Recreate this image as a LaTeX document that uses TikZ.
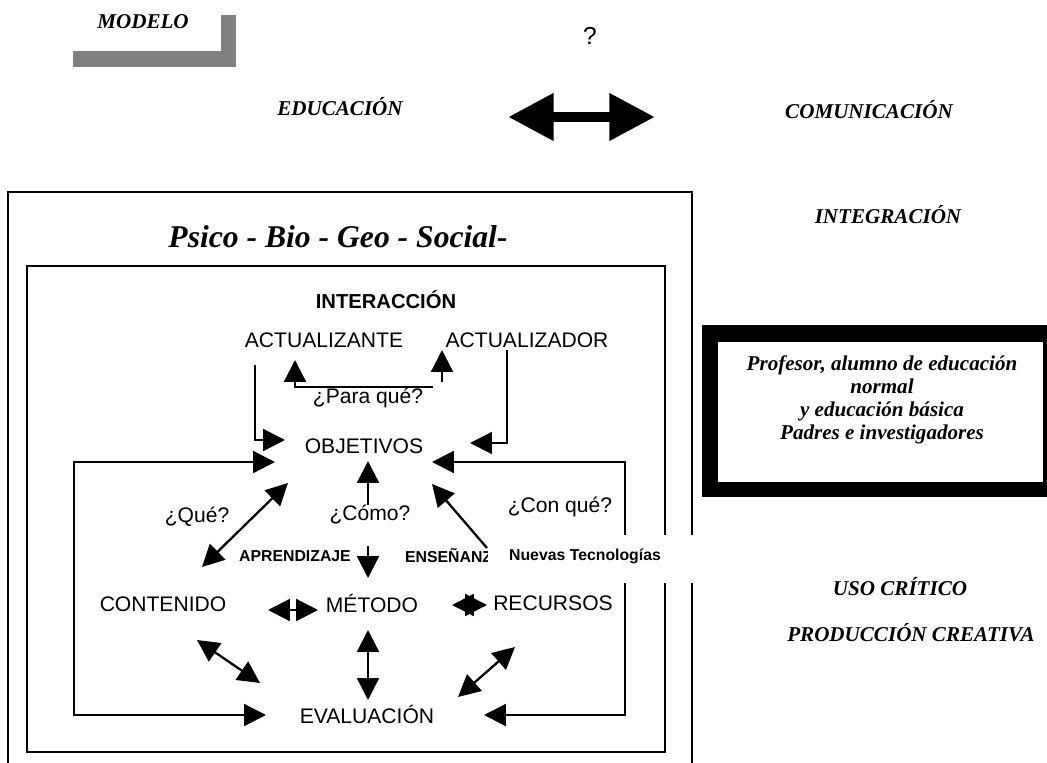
\documentclass[tikz,border=0pt]{standalone}
\usepackage{fontspec}
\setmainfont{Liberation Serif}
\setsansfont{Liberation Sans}
\usetikzlibrary{arrows.meta}

\tikzset{
	lbl/.style={font=\sffamily\fontsize{12}{14}\selectfont, inner sep=1pt},
	blbl/.style={font=\sffamily\bfseries\fontsize{9}{11}\selectfont, inner sep=1pt},
	ttl/.style={font=\rmfamily\bfseries\itshape\fontsize{12}{14}\selectfont, inner sep=1pt},
	wire/.style={line width=1.3pt},
	tip/.style={wire, -{Triangle[length=12.5pt,width=12.5pt]}},
	dtip/.style={wire, {Triangle[length=12.5pt,width=12.5pt]}-{Triangle[length=12.5pt,width=12.5pt]}},
}

\begin{document}
\begin{tikzpicture}[x=0.02cm, y=-0.02cm]
	\useasboundingbox (0,0) rectangle (1047,763);
	% Heading, frames and texts:
	\fill[gray] (73,51) rectangle (236,67);
	\fill[gray] (221,15) rectangle (236,67);
	\node[ttl] (modelo) at (143,22) {MODELO};
	\node[lbl, font=\sffamily\fontsize{14}{16}\selectfont] (qm) at (590,36) {?};
	\node[ttl] (edu) at (340,107) {EDUCACIÓN};
	\node[ttl] (com) at (869,110) {COMUNICACIÓN};
	\coordinate (e1) at (508,117);
	\coordinate (e2) at (655,117);
	\draw[line width=6.2pt, {Triangle[length=26pt,width=25.5pt]}-{Triangle[length=26pt,width=25.5pt]}] (e1) -- (e2);
	\node[ttl] (integ) at (888,215) {INTEGRACIÓN};
	\node[ttl] (uso) at (900,587) {USO CRÍTICO};
	\node[ttl] (prod) at (911,633) {PRODUCCIÓN CREATIVA};
	\fill (702,325) rectangle (1047,497);
	\fill[white] (718,342) rectangle (1043,482);
	\node[ttl, align=center, font=\rmfamily\bfseries\itshape\fontsize{12}{13}\selectfont] (who) at (882,400) {Profesor, alumno de educación\\normal\\y educación básica\\Padres e investigadores};
	\draw[line width=1.6pt] (8,770) |- (692,192) -- (692,770);
	\draw[line width=1.4pt] (27,266) rectangle (665,752);
	\node[ttl, font=\rmfamily\bfseries\itshape\fontsize{18}{21}\selectfont] (psb) at (338,237) {Psico - Bio - Geo - Social-};
	\node[lbl, font=\sffamily\bfseries\fontsize{11.5}{14}\selectfont] (inter) at (386,300) {INTERACCIÓN};
	\node[lbl] (acte) at (324,340) {ACTUALIZANTE};
	\node[lbl] (acto) at (527,340) {ACTUALIZADOR};
	\node[lbl] (para) at (368,398) {¿Para qué?};
	\node[lbl] (obj) at (364,446) {OBJETIVOS};
	\node[lbl] (que) at (197,517) {¿Qué?};
	\node[lbl] (como) at (370,515) {¿Cómo?};
	\node[lbl] (conque) at (560,507) {¿Con qué?};
	\node[blbl] (apr) at (295,556) {APRENDIZAJE};
	\node[blbl, anchor=west] (ens) at (403,556) {ENSEÑANZA};
	\node[lbl] (cont) at (163,604) {CONTENIDO};
	\node[lbl] (met) at (372,603) {MÉTODO};
	\node[lbl] (rec) at (553,603) {RECURSOS};
	\node[lbl] (eval) at (367,714) {EVALUACIÓN};
	% Arrows:
	\draw[tip] (255,365) |- (285,440);
	\draw[tip] (433,387) -| (295,360);
	\draw[tip] (442,382) -- (442,350);
	\draw[tip] (507,350) |- (470,443);
	\draw[dtip] (275,462) -| (74,715) -- (266,715);
	\draw[dtip] (432,462) -| (625,715) -- (484,715);
	\draw[tip] (368,505) -- (368,461);
	\draw[dtip] (202,567) -- (288,483);
	\draw[tip] (487,548) -- (432,484);
	\draw[tip] (368,546) -- (368,578);
	\draw[dtip] (268,610) -- (318,610);
	\draw[dtip] (452,605) -- (487,605);
	\draw[dtip] (368,630) -- (368,700);
	\draw[dtip] (197,640) -- (260,683);
	\draw[dtip] (458,697) -- (515,647);
	% Label box over the lines:
	\fill[white] (488,535) rectangle (705,583);
	\node[blbl] (nt) at (585,556) {Nuevas Tecnologías};
\end{tikzpicture}
\end{document}
